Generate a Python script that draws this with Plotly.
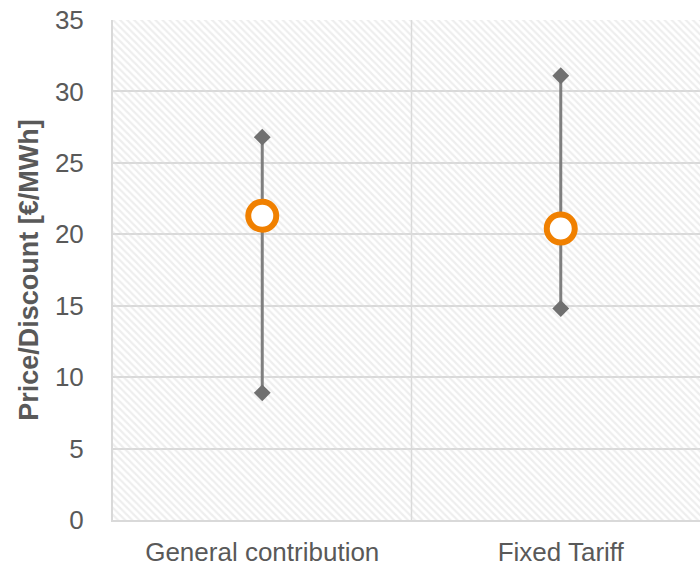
import plotly.graph_objects as go

# Price / discount ranges per remuneration scheme [€/MWh]
categories = ["General contribution", "Fixed Tariff"]
low_values = [8.9, 14.8]
high_values = [26.8, 31.1]
mid_values = [21.3, 20.4]

y_min, y_max = 0, 35
y_tick_step = 5
x_lo, x_hi = -0.5, 1.4665

FONT = "Liberation Sans, Arial, sans-serif"
GRID = "#d9d9d9"
TEXT = "#595959"
RANGE_GREY = "#7f7f7f"
ORANGE = "#f08000"

xs = list(range(len(categories)))

fig = go.Figure()

# hatched plot-area background
fig.add_trace(go.Scatter(
    x=[x_lo, len(categories) - 0.5, len(categories) - 0.5, x_lo, x_lo],
    y=[y_min, y_min, y_max, y_max, y_min],
    mode="none", fill="toself", fillcolor="rgba(0,0,0,0)",
    fillpattern=dict(shape="\\", fgcolor="#dddddd", bgcolor="rgba(0,0,0,0)",
                     size=5, solidity=0.45),
    hoverinfo="skip", showlegend=False,
))

# low-high range lines with diamond ends
for x, lo, hi in zip(xs, low_values, high_values):
    fig.add_trace(go.Scatter(
        x=[x, x], y=[lo, hi], mode="lines+markers",
        line=dict(color=RANGE_GREY, width=3),
        marker=dict(symbol="diamond", size=13, color="#707070"),
        showlegend=False,
    ))

# central value markers
fig.add_trace(go.Scatter(
    x=xs, y=mid_values, mode="markers",
    marker=dict(symbol="circle", size=28, color="white",
                line=dict(color=ORANGE, width=6)),
    showlegend=False,
))

# category boundary lines
for b in range(1, len(categories)):
    fig.add_shape(type="line", xref="x", yref="y", x0=b - 0.5, x1=b - 0.5,
                  y0=y_min, y1=y_max, line=dict(color=GRID, width=1.5), layer="below")

fig.update_layout(
    width=700, height=566,
    margin=dict(l=113, r=0, t=20, b=46),
    paper_bgcolor="white", plot_bgcolor="white",
    font=dict(family=FONT, color=TEXT, size=26),
)
fig.update_xaxes(
    range=[x_lo, x_hi], tickvals=xs, ticktext=categories,
    showgrid=False, zeroline=False, showline=True, linecolor=GRID, linewidth=2,
    ticks="", tickfont=dict(size=26, color=TEXT), ticklabelstandoff=8,
)
fig.update_yaxes(
    range=[y_min, y_max], dtick=y_tick_step, tick0=0,
    showgrid=True, gridcolor=GRID, gridwidth=2, zeroline=False,
    showline=True, linecolor=GRID, linewidth=2, ticks="",
    tickfont=dict(size=26, color=TEXT), ticklabelstandoff=22,
    title=dict(text="<b>Price/Discount [€/MWh]</b>", font=dict(size=27, color=TEXT), standoff=8),
)

fig.write_html("out.html")
